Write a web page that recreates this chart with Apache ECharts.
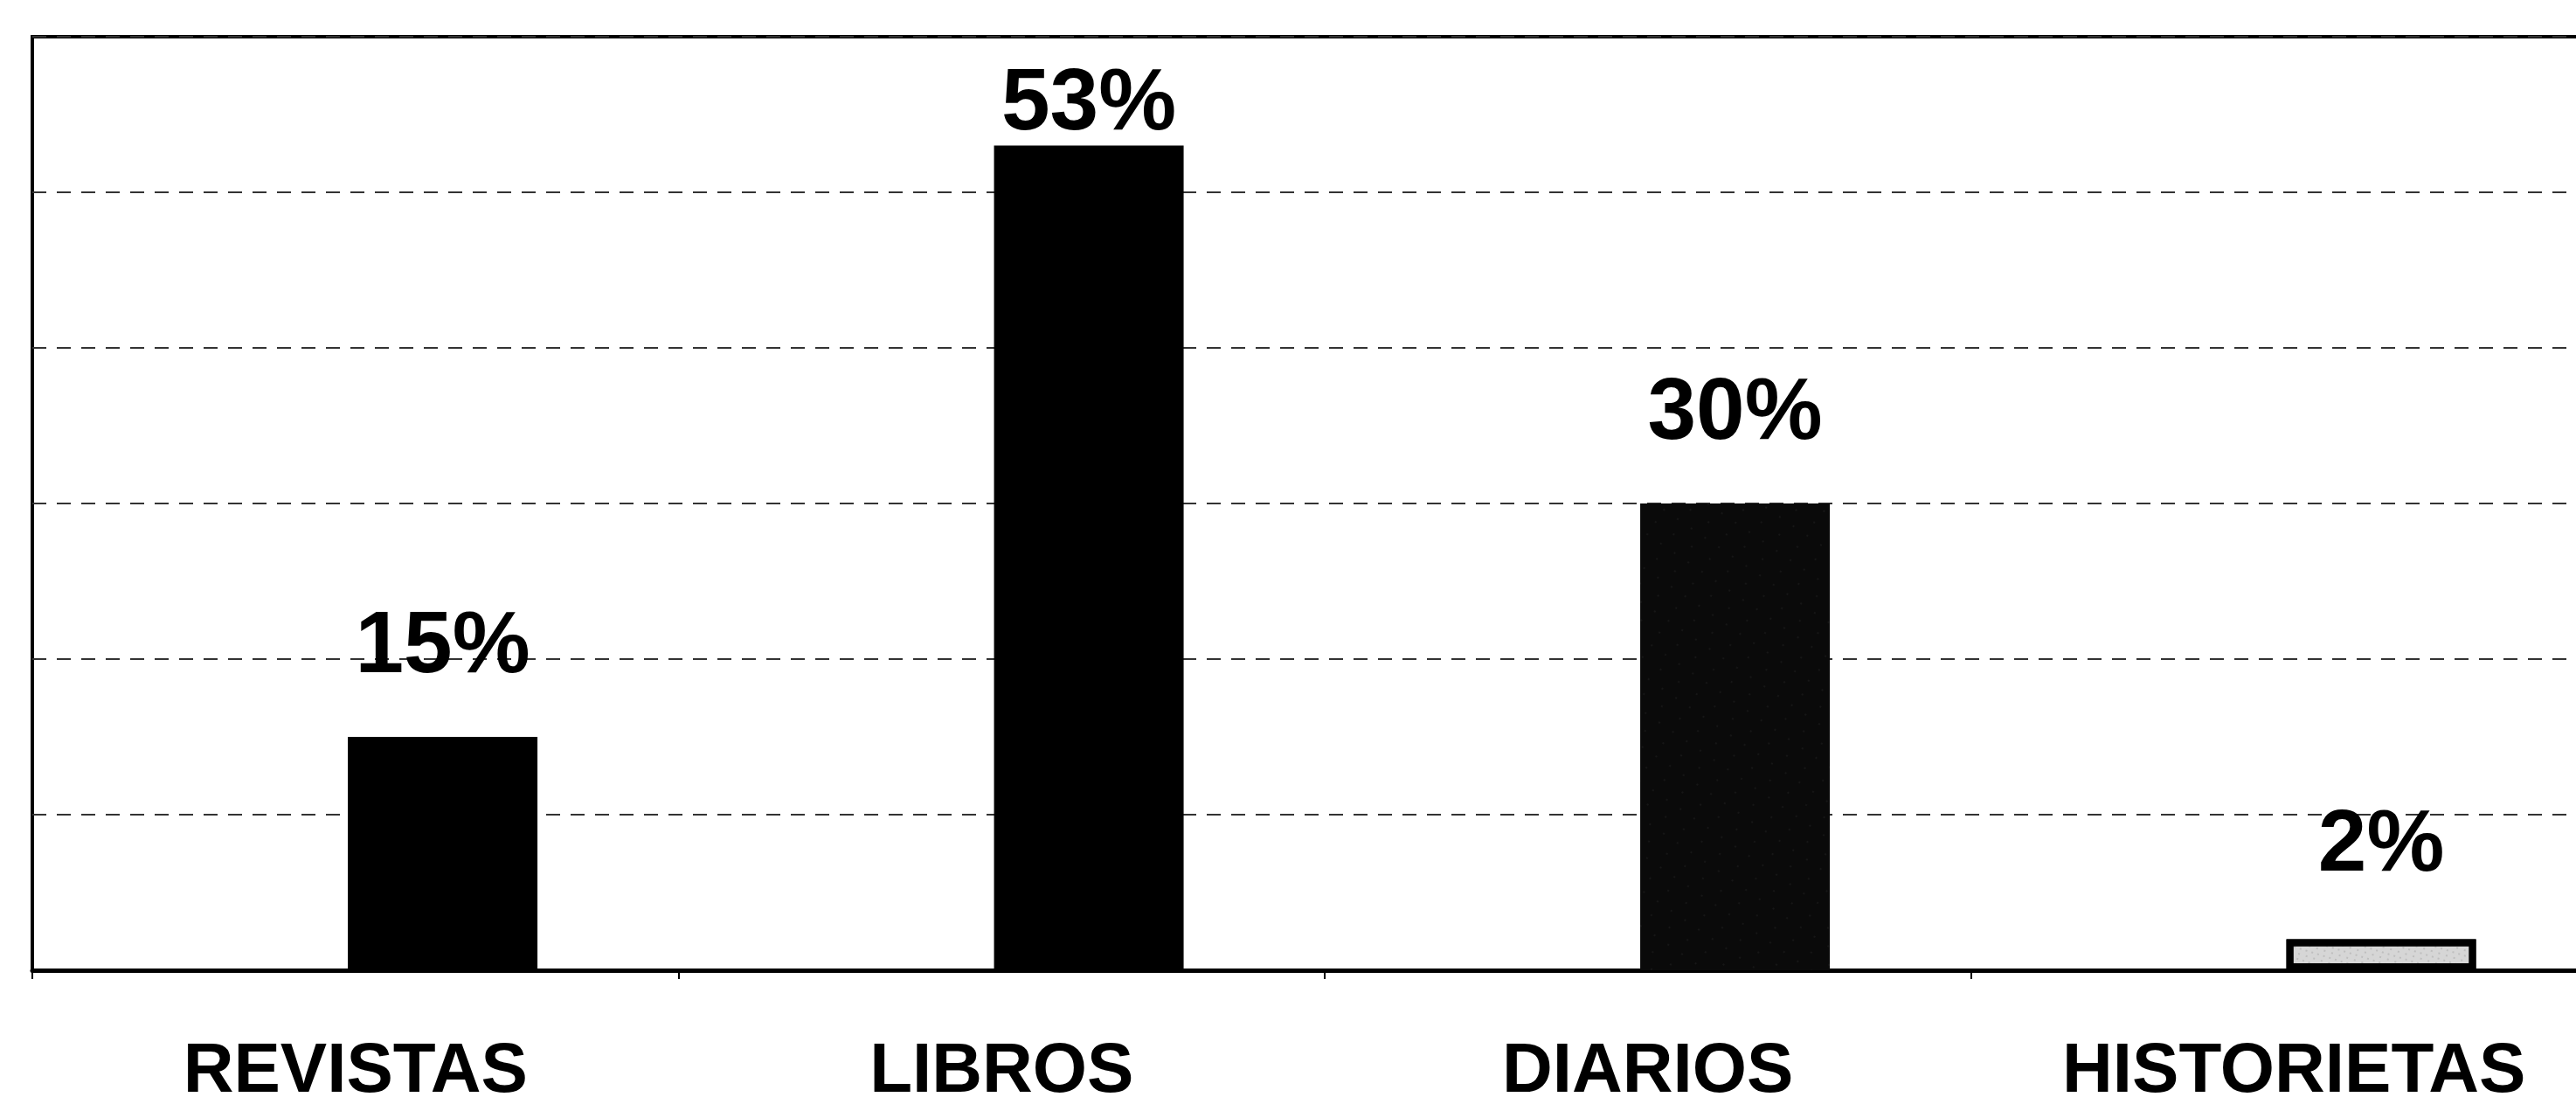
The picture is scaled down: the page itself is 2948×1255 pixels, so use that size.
<!DOCTYPE html>
<html>
<head>
<meta charset="utf-8">
<script src="https://cdn.jsdelivr.net/npm/echarts@6/dist/echarts.min.js"></script>
<style>
    html, body { margin: 0; padding: 0; background: #fff; }
    #chart { width: 2948px; height: 1255px; }
</style>
</head>
<body>
<div id="chart"></div>
<script>
// 数据
const categories = ['REVISTAS', 'LIBROS', 'DIARIOS', 'HISTORIETAS'];
const percentValues = [15, 53, 30, 2];
const yMin = 0;
const yMax = 60;
const yStep = 10;

// 每根柱子的样式
const barStyles = [
    { color: '#000' },
    { color: '#000' },
    {
        color: '#0a0a0a',
        decal: {
            symbol: 'rect',
            symbolSize: 0.35,
            color: 'rgba(255,255,255,0.55)',
            dashArrayX: [[2, 17], [2, 23]],
            dashArrayY: [2, 15],
            rotation: 0.6
        }
    },
    {
        color: '#d6d6d6',
        borderColor: '#000',
        borderWidth: 8,
        decal: {
            symbol: 'rect',
            symbolSize: 0.5,
            color: 'rgba(0,0,0,0.45)',
            dashArrayX: [[2, 5], [2, 7]],
            dashArrayY: [2, 4],
            rotation: 0.3
        }
    }
];
const labelGaps = [52, -4, 52, 56];

const myChart = echarts.init(document.getElementById('chart'));
const option = {
    animation: false,
    backgroundColor: '#fff',
    grid: {
        left: 37,
        top: 42,
        bottom: 145,
        width: 2958,   // 右边框在画面外
        outerBoundsMode: 'none',
        show: true,
        borderColor: '#000',
        borderWidth: 4
    },
    xAxis: {
        type: 'category',
        data: categories,
        axisLine: {
            lineStyle: { color: '#000', width: 5 }
        },
        axisTick: {
            show: true,
            length: 10,
            lineStyle: { color: '#000', width: 2 }
        },
        axisLabel: {
            color: '#000',
            fontFamily: 'Liberation Sans, Arial, sans-serif',
            fontWeight: 'bold',
            fontSize: 80,
            verticalAlign: 'middle',
            margin: 117
        }
    },
    yAxis: {
        type: 'value',
        min: yMin,
        max: yMax,
        interval: yStep,
        axisLine: { show: false },
        axisTick: { show: false },
        axisLabel: { show: false },
        splitLine: {
            show: true,
            lineStyle: {
                color: '#333',
                width: 2,
                type: [16, 12]
            }
        }
    },
    series: [
        {
            // 占位系列，让柱子偏向类目右侧
            name: 'blank',
            type: 'bar',
            barWidth: 217,
            barGap: '-8%',
            data: categories.map(() => null)
        },
        {
            name: 'pct',
            type: 'bar',
            barWidth: 217,
            barGap: '-8%',
            label: {
                show: true,
                position: 'top',
                formatter: '{c}%',
                color: '#000',
                fontFamily: 'Liberation Sans, Arial, sans-serif',
                fontWeight: 'bold',
                fontSize: 100
            },
            data: percentValues.map((v, i) => ({
                value: v,
                itemStyle: barStyles[i],
                label: { distance: labelGaps[i] }
            }))
        }
    ]
};
myChart.setOption(option);
</script>
</body>
</html>
